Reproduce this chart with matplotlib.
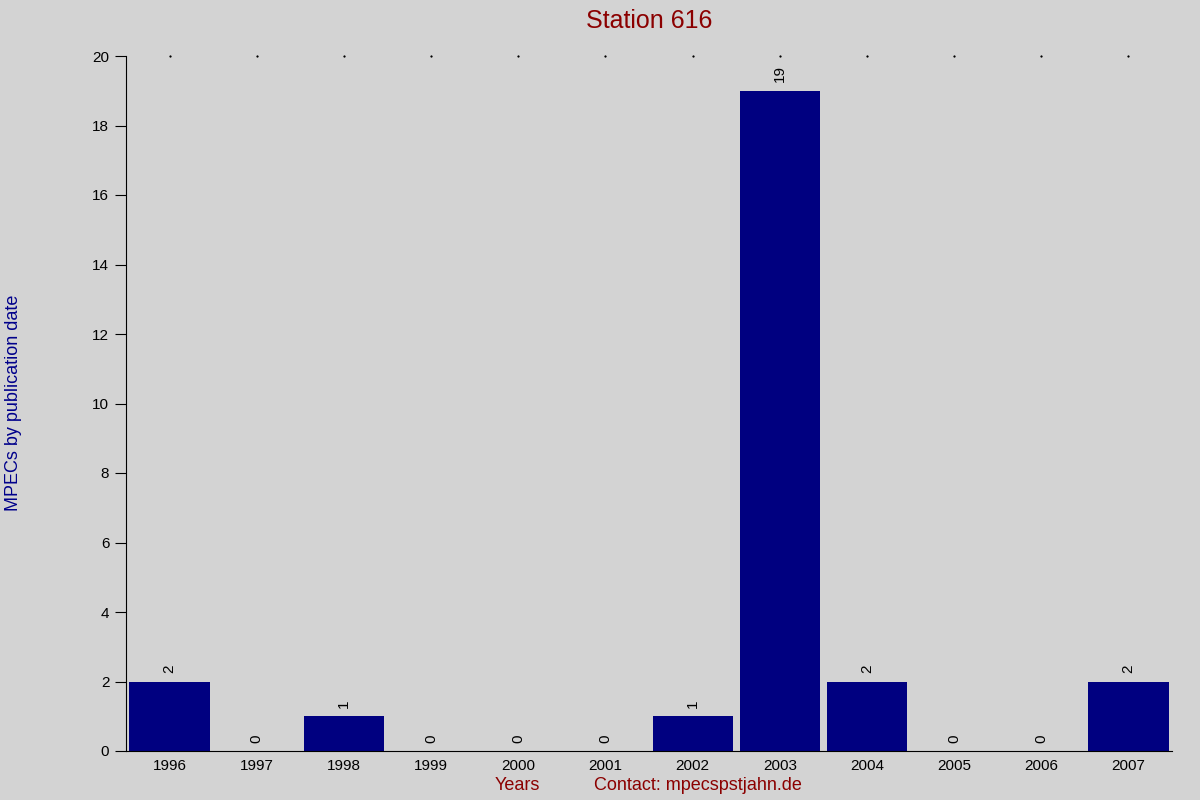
import matplotlib
matplotlib.use('Agg')
import matplotlib.pyplot as plt
import numpy as np

plt.rcParams['font.family'] = ['Liberation Sans', 'DejaVu Sans']

years = ['1996', '1997', '1998', '1999', '2000', '2001', '2002', '2003', '2004', '2005', '2006', '2007']
mpecs = [2, 0, 1, 0, 0, 0, 1, 19, 2, 0, 0, 2]

bg = '#d3d3d3'
fig = plt.figure(figsize=(12, 8), dpi=100, facecolor=bg)
ax = fig.add_axes([0.105, 0.06125, 0.8717, 0.86875], facecolor=bg)

x = np.arange(len(years))
bars = ax.bar(x, mpecs, width=0.92, color='#000080')

for rect, v in zip(bars, mpecs):
    ax.annotate(str(v), xy=(rect.get_x() + rect.get_width() / 2, v),
                xytext=(0, 6), textcoords='offset points',
                ha='center', va='bottom', rotation=90, fontsize=11)

# tiny dots along the top edge
ax.plot(x, [20] * len(x), linestyle='none', marker='s', markersize=0.6, color='black', clip_on=False)

ax.set_xlim(-0.5, 11.5)
ax.set_ylim(0, 20)
ax.set_yticks(np.arange(0, 21, 2))
ax.set_xticks(x)
ax.set_xticklabels(years)
ax.tick_params(axis='x', length=0, labelsize=11, pad=6)
ax.tick_params(axis='y', length=8, labelsize=11, pad=4)

for s in ['top', 'right']:
    ax.spines[s].set_visible(False)

fig.text(0.541, 0.974, 'Station 616', ha='center', va='center', fontsize=18, color='#8b0000')
fig.text(0.011, 0.496, 'MPECs by publication date', ha='center', va='center', rotation=90,
         fontsize=13, color='#00008b')
fig.text(0.431, 0.0175, 'Years', ha='center', va='center', fontsize=13, color='#8b0000')
fig.text(0.582, 0.0175, 'Contact: mpecspstjahn.de', ha='center', va='center', fontsize=13, color='#8b0000')

fig.savefig('out.png', dpi=100, facecolor=bg)
